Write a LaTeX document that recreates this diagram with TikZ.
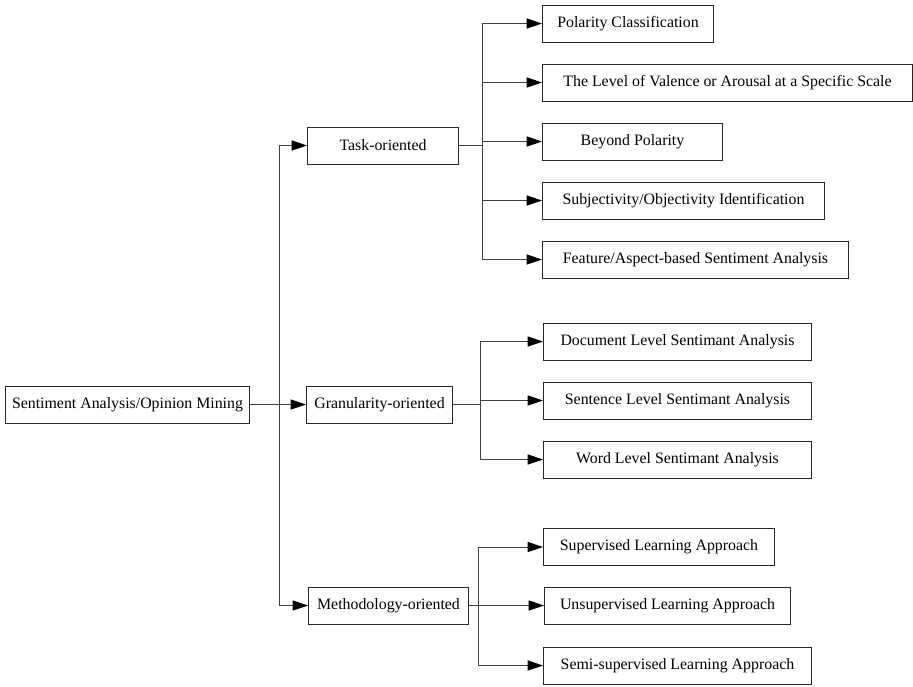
\documentclass[tikz,border=0pt]{standalone}
\usepackage{fontspec}
\setmainfont{Liberation Serif}
\usetikzlibrary{arrows.meta}

\begin{document}
\begin{tikzpicture}[x=0.75pt, y=-0.75pt,
		box/.style={draw=black!85, line width=0.75pt, anchor=west, minimum height=27.75pt,
			inner xsep=0pt, text=black, font=\fontsize{11.9}{14}\selectfont},
		link/.style={draw=black!75, line width=0.75pt},
		arr/.style={link, -{Triangle[length=11.5pt, width=7.5pt, color=black]}}]
		\useasboundingbox (0,0) rectangle (913,686);
		
		% root and the three kinds
		\node [box, minimum width=183pt] (root) at (5,404.5) {Sentiment Analysis/Opinion Mining};
		\node [box, minimum width=113.25pt] (task) at (307,145.5) {Task-oriented};
		\node [box, minimum width=109.5pt] (gran) at (306,404.5) {Granularity-oriented};
		\node [box, minimum width=120pt] (meth) at (308,605.5) {Methodology-oriented};
		
		% task-oriented
		\node [box, minimum width=128.25pt] (pol) at (542,23.5) {Polarity Classification};
		\node [box, minimum width=277.5pt] (val) at (542,82.5) {The Level of Valence or Arousal at a Specific Scale};
		\node [box, minimum width=135pt] (bey) at (542,141.5) {Beyond Polarity};
		\node [box, minimum width=211.5pt] (subj) at (542,200.5) {Subjectivity/Objectivity Identification};
		\node [box, minimum width=229.5pt] (feat) at (542,259.5) {Feature/Aspect-based Sentiment Analysis};
		
		% granularity-oriented
		\node [box, minimum width=201pt] (doc) at (543,341.5) {Document Level Sentimant Analysis};
		\node [box, minimum width=201pt] (sent) at (543,400.5) {Sentence Level Sentimant Analysis};
		\node [box, minimum width=201pt] (word) at (543,459.5) {Word Level Sentimant Analysis};
		
		% methodology-oriented
		\node [box, minimum width=173.25pt] (sup) at (543,547) {Supervised Learning Approach};
		\node [box, minimum width=184.5pt] (unsup) at (544,605.5) {Unsupervised Learning Approach};
		\node [box, minimum width=201pt] (semi) at (543,665.5) {Semi-supervised Learning Approach};
		
		\coordinate (trunk) at (279,404.5);
		\coordinate (tsplit) at (482,145.5);
		\coordinate (gsplit) at (480,404.5);
		\coordinate (msplit) at (478,605.5);
		
		\draw [arr] (root.east) -- (gran.west);
		\draw [arr] (trunk) |- (task.west);
		\draw [arr] (trunk) |- (meth.west);
		
		\draw [link] (task.east) -- (tsplit);
		\foreach \n in {pol,val,bey,subj,feat}
			\draw [arr] (tsplit) |- (\n.west);
		
		\draw [link] (gran.east) -- (gsplit);
		\foreach \n in {doc,sent,word}
			\draw [arr] (gsplit) |- (\n.west);
		
		\draw [link] (meth.east) -- (msplit);
		\foreach \n in {sup,unsup,semi}
			\draw [arr] (msplit) |- (\n.west);
		
	\end{tikzpicture}
\end{document}
